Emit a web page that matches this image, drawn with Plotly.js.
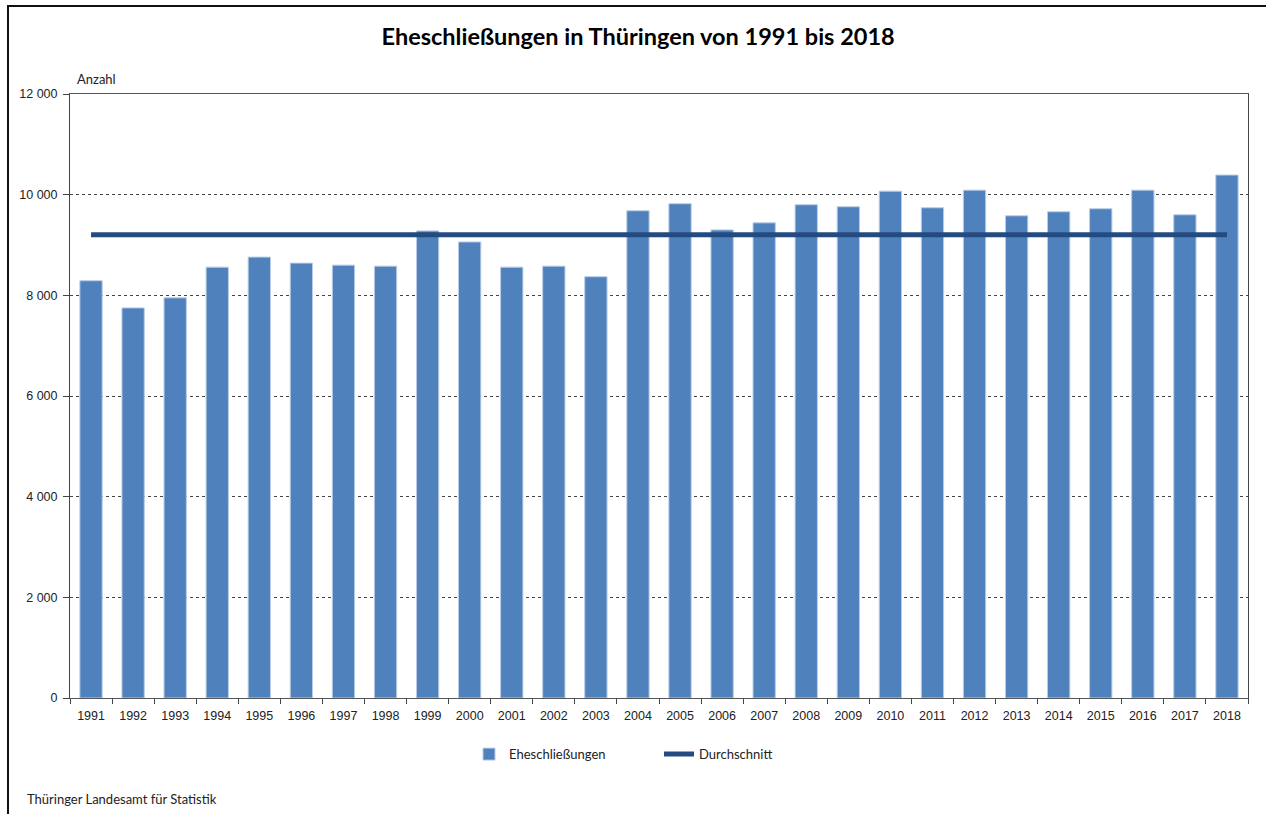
<!DOCTYPE html>
<html>
<head>
<meta charset="utf-8">
<script src="https://cdn.plot.ly/plotly-3.0.1.min.js"></script>
<style>
  html, body { margin: 0; padding: 0; background: #ffffff; overflow: hidden; }
  #chart { position: absolute; left: 0; top: 0; width: 1266px; height: 814px; }
  #frame { position: absolute; left: 7px; top: 5px; width: 1400px; height: 1000px; border: 2px solid #111; pointer-events: none; }
</style>
</head>
<body>
<div id="chart"></div>
<div id="frame"></div>
<script>
const years = ["1991","1992","1993","1994","1995","1996","1997","1998","1999","2000","2001","2002","2003","2004","2005","2006","2007","2008","2009","2010","2011","2012","2013","2014","2015","2016","2017","2018"];
const marriages = [8290,7750,7950,8560,8760,8640,8600,8580,9280,9060,8560,8580,8370,9680,9820,9300,9440,9800,9760,10070,9740,10090,9580,9660,9720,10090,9600,10390];
const averageValue = 9204;
const yTicks = [0,2000,4000,6000,8000,10000,12000];
const titleText = "Eheschließungen in Thüringen von 1991 bis 2018";
const yUnit = "Anzahl";
const sourceText = "Thüringer Landesamt für Statistik";

const tickFont = {family: "Liberation Sans, Arial, sans-serif", size: 12.5, color: "#222"};

const traces = [
  {
    type: "bar",
    name: "Eheschließungen",
    x: years,
    y: marriages,
    marker: {color: "#4f81bd", line: {color: "#b9cde5", width: 1}},
    hoverinfo: "x+y"
  },
  {
    type: "scatter",
    mode: "lines",
    name: "Durchschnitt",
    x: [years[0], years[years.length - 1]],
    y: [averageValue, averageValue],
    line: {color: "#234b80", width: 5},
    hoverinfo: "y"
  }
];

const layout = {
  width: 1266,
  height: 814,
  margin: {l: 70, r: 18, t: 94, b: 116},
  paper_bgcolor: "rgba(0,0,0,0)",
  plot_bgcolor: "#ffffff",
  separators: ", ",
  bargap: 0.47,
  showlegend: true,
  title: {
    text: titleText,
    x: 0.504, xref: "container", xanchor: "center",
    y: 0.955, yref: "container", yanchor: "middle",
    font: {family: "Lato, Noto Sans, sans-serif", size: 23.5, color: "#000", weight: "bold"}
  },
  xaxis: {
    type: "category",
    tickfont: tickFont,
    ticks: "outside",
    ticklen: 5,
    tickcolor: "#444",
    tickson: "boundaries",
    ticklabelstandoff: 6,
    showline: true,
    linecolor: "#555",
    linewidth: 1,
    mirror: true,
    showgrid: false,
    zeroline: false,
    fixedrange: true
  },
  yaxis: {
    range: [0, 12000],
    tickvals: yTicks,
    tickformat: ",d",
    tickfont: tickFont,
    ticks: "outside",
    ticklen: 6,
    tickcolor: "#444",
    ticklabelstandoff: 3,
    showline: true,
    linecolor: "#444",
    linewidth: 1,
    mirror: true,
    showgrid: true,
    gridcolor: "#444",
    griddash: "3px,3px",
    gridwidth: 1,
    zeroline: false,
    fixedrange: true
  },
  legend: {
    orientation: "h",
    x: 0.5, xanchor: "center",
    y: -0.093, yanchor: "middle",
    font: {family: "Lato, Noto Sans, sans-serif", size: 13, color: "#222"},
    entrywidth: 145,
    traceorder: "normal"
  },
  annotations: [
    {
      text: yUnit, xref: "paper", yref: "paper",
      x: 0.004, y: 1.0, xanchor: "left", yanchor: "bottom", yshift: 5,
      showarrow: false,
      font: {family: "Lato, Noto Sans, sans-serif", size: 13, color: "#222"}
    },
    {
      text: sourceText, xref: "paper", yref: "paper",
      x: -0.038, y: -0.168, xanchor: "left", yanchor: "middle",
      showarrow: false,
      font: {family: "Lato, Noto Sans, sans-serif", size: 13, color: "#222"}
    }
  ]
};

Plotly.newPlot("chart", traces, layout, {displayModeBar: false, staticPlot: true});
</script>
</body>
</html>
